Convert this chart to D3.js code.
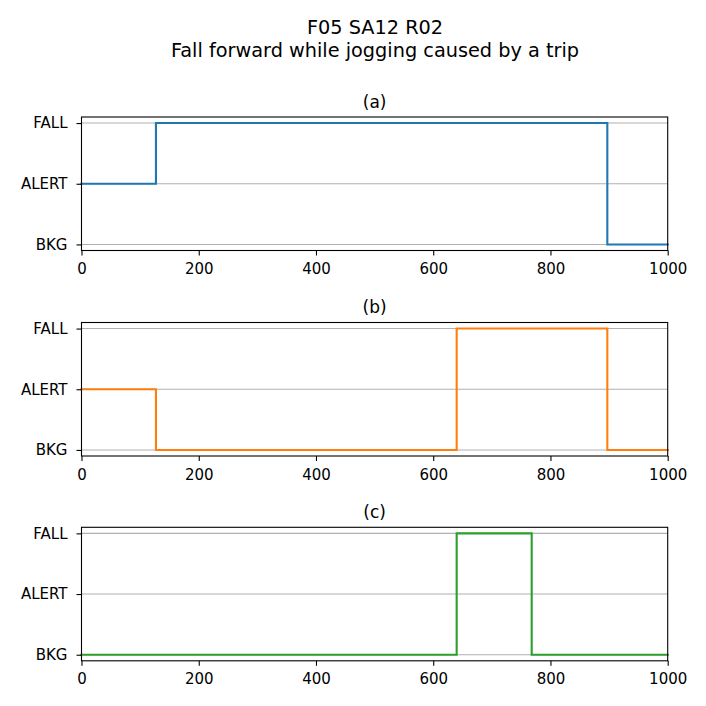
<!DOCTYPE html>
<html>
<head>
<meta charset="utf-8">
<script src="https://cdn.jsdelivr.net/npm/d3@7"></script>
<style>
  html, body { margin: 0; padding: 0; background: #fff; }
  svg { display: block; font-family: "DejaVu Sans", sans-serif; }
</style>
</head>
<body>
<svg id="chart" width="706" height="706"></svg>
<script>
// ---- data ----
const titleLines = ["F05 SA12 R02", "Fall forward while jogging caused by a trip"];
const panelNames = ["(a)", "(b)", "(c)"];
const stateLabels = ["BKG", "ALERT", "FALL"];
const xTicks = [0, 200, 400, 600, 800, 1000];
const colors = ["#1f77b4", "#ff7f0e", "#2ca02c"];
// step change points (x) and the state held from that x on
const xA = [0, 127, 897, 1000];
const sA = [1, 2, 0, 0];
const xB = [0, 127, 640, 897, 1000];
const sB = [1, 0, 2, 0, 0];
const xC = [0, 640, 768, 1000];
const sC = [0, 2, 0, 0];

const series = [
  xA.map((x, i) => ({x, s: sA[i]})),
  xB.map((x, i) => ({x, s: sB[i]})),
  xC.map((x, i) => ({x, s: sC[i]}))
];

// ---- layout ----
const svg = d3.select("#chart");
const left = 81.5, right = 667.7;
const tops = [117, 322.5, 527.3];
const h = 133.5;

svg.append("g").attr("text-anchor", "middle").attr("font-size", "19.3px").attr("fill", "#000")
  .selectAll("text").data(titleLines).join("text")
  .attr("x", 375).attr("y", (d, i) => 34 + i * 23).text(d => d);

const x = d3.scaleLinear().domain([0, 1000]).range([left, right]);

series.forEach((data, k) => {
  const top = tops[k];
  const y = d3.scaleLinear().domain([-0.1, 2.1]).range([top + h, top]);
  const g = svg.append("g");

  // grid
  g.append("g").selectAll("line").data([0, 1, 2]).join("line")
    .attr("x1", left).attr("x2", right)
    .attr("y1", d => y(d)).attr("y2", d => y(d))
    .attr("stroke", "#b0b0b0").attr("stroke-width", 1.1);

  // line
  const line = d3.line().x(d => x(d.x)).y(d => y(d.s)).curve(d3.curveStepAfter);
  g.append("path").datum(data).attr("d", line)
    .attr("fill", "none").attr("stroke", colors[k]).attr("stroke-width", 2.1)
    .attr("stroke-linejoin", "miter").attr("stroke-linecap", "square");

  // frame
  g.append("rect").attr("x", left).attr("y", top).attr("width", right - left).attr("height", h)
    .attr("fill", "none").attr("stroke", "#000").attr("stroke-width", 1.1);

  // axes
  const xAxis = d3.axisBottom(x).tickValues(xTicks).tickFormat(d3.format("d")).tickSize(5).tickPadding(8);
  const ax = g.append("g").attr("transform", `translate(0,${top + h})`).call(xAxis);
  const yAxis = d3.axisLeft(y).tickValues([0, 1, 2]).tickFormat(d => stateLabels[d]).tickSize(5).tickPadding(9);
  const ay = g.append("g").attr("transform", `translate(${left},0)`).call(yAxis);
  [ax, ay].forEach(a => {
    a.select(".domain").remove();
    a.selectAll(".tick line").attr("stroke", "#000").attr("stroke-width", 1.1);
    a.selectAll(".tick text").attr("font-size", "15px").attr("fill", "#000")
      .attr("font-family", "DejaVu Sans, sans-serif");
  });

  // panel title
  g.append("text").attr("x", (left + right) / 2).attr("y", top - 9.5)
    .attr("text-anchor", "middle").attr("font-size", "17px").attr("fill", "#000")
    .text(panelNames[k]);
});
</script>
</body>
</html>
